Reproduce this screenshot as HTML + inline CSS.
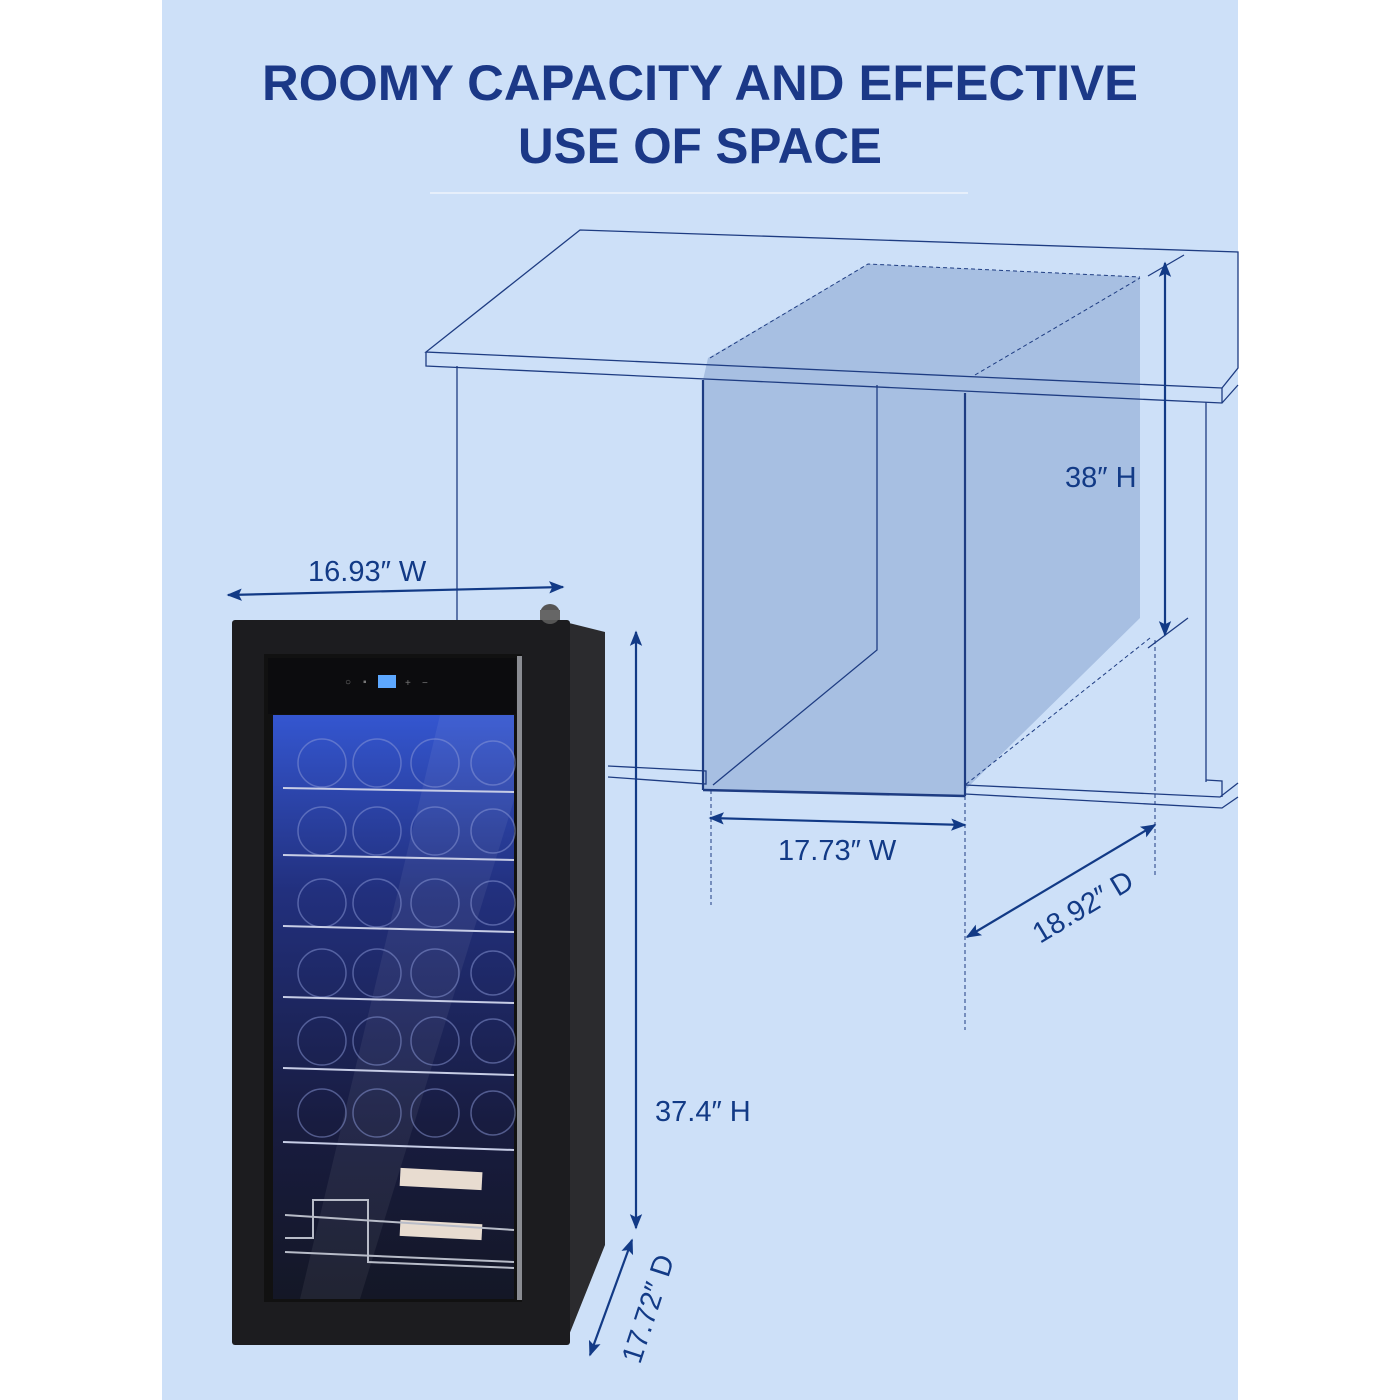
<!DOCTYPE html>
<html><head><meta charset="utf-8"><style>
html,body{margin:0;padding:0;background:#fff}
svg{display:block}
</style></head><body>
<svg width="1400" height="1400" viewBox="0 0 1400 1400" xmlns="http://www.w3.org/2000/svg" font-family="Liberation Sans,sans-serif">
<defs>
<marker id="ah" viewBox="0 0 10 10" refX="9" refY="5" markerWidth="7" markerHeight="7" orient="auto-start-reverse"><path d="M0,1 L10,5 L0,9 L2,5 z" fill="#123a86"/></marker>
<linearGradient id="glass" x1="0" y1="0" x2="0" y2="1">
<stop offset="0" stop-color="#3456d0"/><stop offset="0.3" stop-color="#22307e"/><stop offset="0.7" stop-color="#181c40"/><stop offset="1" stop-color="#141726"/></linearGradient>
</defs>
<rect x="0" y="0" width="1400" height="1400" fill="#fff"/>
<rect x="162" y="0" width="1076" height="1400" fill="#cde0f8"/>
<g font-family="Liberation Sans,sans-serif" font-weight="bold" fill="#1b3887" text-anchor="middle" font-size="50">
<text x="700" y="100" textLength="876" lengthAdjust="spacingAndGlyphs">ROOMY CAPACITY AND EFFECTIVE</text>
<text x="700" y="163" textLength="364" lengthAdjust="spacingAndGlyphs">USE  OF SPACE</text>
</g>
<line x1="430" y1="193" x2="968" y2="193" stroke="#eef4fc" stroke-width="1.5"/>

<polygon points="708,358 868,264 1140,277 1140,618 965,790 965,795 703,790 703,380" fill="#a7bfe2"/>
<g stroke="#1e3c82" stroke-width="1.3" fill="none">
<polygon points="580,230 1238,252 1238,368 1222,388 426,352"/>
<polyline points="426,352 426,366 1222,403 1238,385"/>
<line x1="1222" y1="388" x2="1222" y2="403"/>
<line x1="457" y1="366" x2="457" y2="620"/>
<line x1="1206" y1="402" x2="1206" y2="782"/>
<polyline points="608,766 706,771 706,784 608,777"/>
<polyline points="965,785 1220,797 1238,783"/>
<polyline points="1206,780 1222,781 1222,797"/>
<polyline points="965,794 1222,808 1238,797"/>
<line x1="703" y1="380" x2="703" y2="790" stroke-width="2.2"/>
<line x1="965" y1="393" x2="965" y2="796" stroke-width="2.2"/>
<line x1="703" y1="790" x2="965" y2="796" stroke-width="2.6"/>
<polyline points="877,385 877,650 713,785"/>
<g stroke-dasharray="4,3" stroke-width="1">
<polyline points="710,358 868,264 1140,277"/>
<line x1="975" y1="375" x2="1140" y2="278"/>
<line x1="1150" y1="638" x2="965" y2="785"/>
<line x1="711" y1="790" x2="711" y2="905"/>
<line x1="965" y1="796" x2="965" y2="1030"/>
<line x1="1155" y1="640" x2="1155" y2="875"/>
</g>
<line x1="1148" y1="276" x2="1184" y2="255"/>
<line x1="1148" y1="648" x2="1188" y2="618"/>
</g>
<g stroke="#123a86" stroke-width="2.2" fill="none" marker-start="url(#ah)" marker-end="url(#ah)">
<line x1="1165" y1="263" x2="1165" y2="635"/>
<line x1="710" y1="818" x2="965" y2="825"/>
<line x1="967" y1="937" x2="1155" y2="825"/>
<line x1="228" y1="595" x2="563" y2="587"/>
<line x1="636" y1="632" x2="636" y2="1228"/>
<line x1="632" y1="1240" x2="590" y2="1355"/>
</g>
<g fill="#123a86" font-size="29">
<text x="1065" y="487">38″ H</text>
<text x="778" y="860">17.73″ W</text>
<text x="308" y="581">16.93″ W</text>
<text x="655" y="1121">37.4″ H</text>
<text transform="translate(1040,944) rotate(-31)">18.92″ D</text>
<text transform="translate(640,1365) rotate(-72)">17.72″ D</text>
</g>

<polygon points="565,622 605,632 605,1245 565,1345" fill="#2b2b2e"/>
<rect x="232" y="620" width="338" height="725" rx="3" fill="#1c1c1f"/>
<circle cx="550" cy="614" r="10" fill="#555"/>
<rect x="540" y="610" width="20" height="10" fill="#666"/>
<rect x="264" y="654" width="258" height="648" fill="#111"/>
<rect x="517" y="656" width="5" height="644" fill="#8a8c92"/>
<rect x="268" y="658" width="248" height="56" fill="#0c0c0e"/>
<rect x="378" y="675" width="18" height="13" fill="#5da8ff"/>
<g fill="#777" font-size="10"><text x="345" y="685">○</text><text x="363" y="685">▪</text><text x="405" y="686">+</text><text x="422" y="686">−</text></g>
<rect x="273" y="715" width="241" height="584" fill="url(#glass)"/>
<polygon points="440,715 514,715 514,800 360,1299 300,1299" fill="#ffffff" opacity="0.06"/>
<g fill="none" stroke="#8c9ad8" stroke-width="1.5" opacity="0.5">
<g id="row">
<circle cx="322" cy="763" r="24"/><circle cx="377" cy="763" r="24"/><circle cx="435" cy="763" r="24"/><circle cx="493" cy="763" r="22"/>
</g>
<use href="#row" y="68"/><use href="#row" y="140"/><use href="#row" y="210"/><use href="#row" y="278"/><use href="#row" y="350"/>
</g>
<g stroke="#c7cde6" stroke-width="2">
<line x1="283" y1="788" x2="514" y2="792"/>
<line x1="283" y1="855" x2="514" y2="860"/>
<line x1="283" y1="926" x2="514" y2="932"/>
<line x1="283" y1="997" x2="514" y2="1003"/>
<line x1="283" y1="1068" x2="514" y2="1075"/>
<line x1="283" y1="1142" x2="514" y2="1150"/>
</g>
<rect x="400" y="1170" width="82" height="18" fill="#e8dcd0" transform="rotate(3 440 1180)"/>
<rect x="400" y="1222" width="82" height="16" fill="#e8dcd0" transform="rotate(3 440 1230)"/>
<g fill="none" stroke="#b8bcc8" stroke-width="2">
<polyline points="285,1238 313,1238 313,1200 368,1200 368,1262 514,1268"/>
<line x1="285" y1="1215" x2="514" y2="1230"/>
<line x1="285" y1="1252" x2="514" y2="1262"/>
</g>
</svg>
</body></html>
